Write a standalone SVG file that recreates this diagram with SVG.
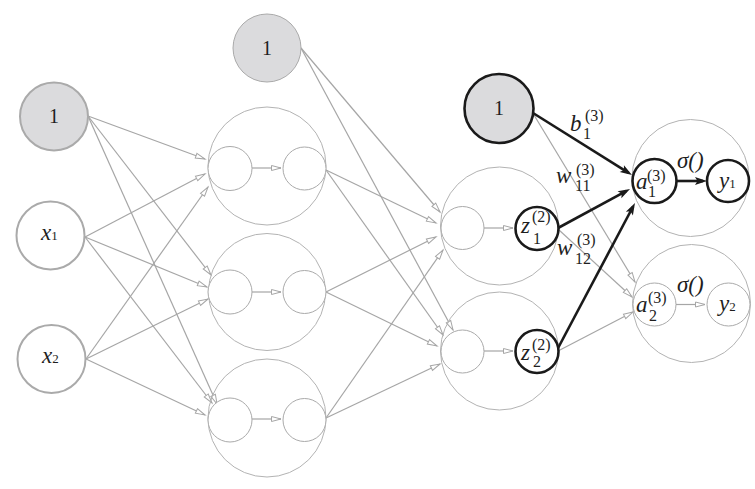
<svg xmlns="http://www.w3.org/2000/svg" width="755" height="489" viewBox="0 0 755 489">
<style>
.big{fill:none;stroke:#b3b3b3;stroke-width:1}
.sm{fill:#fff;stroke:#aaa;stroke-width:1}
.inp{fill:#fff;stroke:#aaa;stroke-width:2}
.bias{fill:#dbdbdd;stroke:#aaa;stroke-width:2}
.bias1{fill:#dbdbdd;stroke:#aaa;stroke-width:1}
.thk{fill:#fff;stroke:#1a1a1a;stroke-width:2.6}
.thkb{fill:#dbdbdd;stroke:#1a1a1a;stroke-width:2.6}
.g{stroke:#a6a6a6;stroke-width:1.2;fill:none;marker-end:url(#ag)}
.k{stroke:#1a1a1a;stroke-width:2.6;fill:none;marker-end:url(#ab)}
text{fill:#1e1e1e;font-family:"Liberation Serif","Times New Roman",serif}
.n{font-size:20px;text-anchor:middle}
.i{font-size:23px;font-style:italic}
.s{font-size:16px}
.ss{font-size:13px}
</style>
<defs>
<marker id="ag" markerWidth="11" markerHeight="7" refX="10" refY="3" orient="auto" markerUnits="userSpaceOnUse" overflow="visible">
<path d="M0.5,0.5 L10,3 L0.5,5.5 z" fill="#fff" stroke="#a6a6a6" stroke-width="1"/>
</marker>
<marker id="ab" markerWidth="13" markerHeight="9" refX="8" refY="4" orient="auto" markerUnits="userSpaceOnUse" overflow="visible">
<path d="M0,0 L12,4 L0,8 L2.5,4 z" fill="#1a1a1a"/>
</marker>
</defs>

<g id="connectors">
<line class="g" x1="88" y1="116" x2="205" y2="159"/>
<line class="g" x1="88" y1="116" x2="211" y2="275"/>
<line class="g" x1="88" y1="116" x2="217" y2="404"/>
<line class="g" x1="85" y1="237" x2="205" y2="174"/>
<line class="g" x1="85" y1="237" x2="207" y2="287"/>
<line class="g" x1="85" y1="237" x2="212" y2="403"/>
<line class="g" x1="86" y1="359" x2="208" y2="187"/>
<line class="g" x1="86" y1="359" x2="208" y2="299"/>
<line class="g" x1="86" y1="359" x2="205" y2="415"/>
<line class="g" x1="252" y1="168" x2="281" y2="168"/>
<line class="g" x1="252" y1="292" x2="281" y2="292"/>
<line class="g" x1="252" y1="419" x2="281" y2="419"/>
<line class="g" x1="301" y1="48" x2="440" y2="212"/>
<line class="g" x1="301" y1="48" x2="453" y2="330"/>
<line class="g" x1="326" y1="170" x2="436" y2="223"/>
<line class="g" x1="326" y1="170" x2="443" y2="335"/>
<line class="g" x1="326" y1="292" x2="436" y2="237"/>
<line class="g" x1="326" y1="292" x2="437" y2="346"/>
<line class="g" x1="326" y1="418" x2="443" y2="250"/>
<line class="g" x1="326" y1="418" x2="440" y2="364"/>
<line class="g" x1="484" y1="228" x2="513" y2="228"/>
<line class="g" x1="484" y1="351" x2="513" y2="351"/>
<line class="g" x1="534" y1="115" x2="635" y2="282"/>
<line class="g" x1="559" y1="230" x2="632" y2="297"/>
<line class="g" x1="558" y1="351" x2="633" y2="312"/>
<line class="g" x1="676" y1="304.5" x2="705" y2="304.5"/>
<line class="k" x1="533" y1="113" x2="628.6" y2="172.9"/>
<line class="k" x1="558" y1="228" x2="626.5" y2="190.9"/>
<line class="k" x1="557" y1="350" x2="633.1" y2="206.5"/>
<line class="k" x1="676" y1="181" x2="703" y2="181"/>
</g>

<g id="bias0"><circle class="bias" cx="54" cy="116.5" r="34"/><text class="n" x="54" y="123">1</text></g>
<g id="x1"><circle class="inp" cx="50.5" cy="235.5" r="34"/><text x="41" y="240"><tspan class="i">x</tspan><tspan class="ss">1</tspan></text></g>
<g id="x2"><circle class="inp" cx="51.5" cy="359" r="34"/><text x="42" y="363"><tspan class="i">x</tspan><tspan class="ss">2</tspan></text></g>

<g id="bias1"><circle class="bias1" cx="267" cy="48" r="34"/><text class="n" x="267" y="55">1</text></g>
<g id="h1">
<circle class="big" cx="267" cy="166" r="59"/>
<circle class="sm" cx="230" cy="168.5" r="22"/>
<circle class="sm" cx="304.5" cy="168.5" r="21.5"/>
</g>
<g id="h2">
<circle class="big" cx="267" cy="292" r="58.5"/>
<circle class="sm" cx="230" cy="292" r="22"/>
<circle class="sm" cx="304.5" cy="292" r="21.5"/>
</g>
<g id="h3">
<circle class="big" cx="267" cy="418" r="59"/>
<circle class="sm" cx="230" cy="420" r="22"/>
<circle class="sm" cx="304.5" cy="420" r="21.5"/>
</g>

<g id="bias2"><circle class="thkb" cx="499" cy="108.5" r="34.5"/><text class="n" x="499" y="115">1</text></g>
<g id="z1node">
<circle class="big" cx="499.5" cy="226" r="59"/>
<circle class="sm" cx="462.5" cy="228" r="21.5"/>
<circle class="thk" cx="537" cy="228.5" r="21.5"/>
<text class="i" x="521" y="233">z</text><text class="s" x="532" y="222">(2)</text><text class="s" x="533" y="244">1</text>
</g>
<g id="z2node">
<circle class="big" cx="499.5" cy="351" r="59"/>
<circle class="sm" cx="462.5" cy="351.5" r="21.5"/>
<circle class="thk" cx="537" cy="351.5" r="21.5"/>
<text class="i" x="521" y="360">z</text><text class="s" x="532" y="350">(2)</text><text class="s" x="533" y="367">2</text>
</g>

<g id="a1node">
<circle class="big" cx="690.5" cy="178" r="58.5"/>
<circle class="thk" cx="654.5" cy="181" r="22"/>
<circle class="thk" cx="728" cy="181" r="21"/>
<text class="i" x="636" y="189">a</text><text class="s" x="647" y="181">(3)</text><text class="s" x="648" y="197">1</text>
<text class="i" x="677" y="168">σ()</text>
<text x="719" y="188"><tspan class="i">y</tspan><tspan class="ss">1</tspan></text>
</g>
<g id="a2node">
<circle class="big" cx="691.5" cy="303.5" r="59"/>
<circle class="sm" cx="654.5" cy="304.5" r="21.5"/>
<circle class="sm" cx="728.5" cy="304.5" r="21.5"/>
<text class="i" x="636" y="312">a</text><text class="s" x="648" y="303">(3)</text><text class="s" x="649" y="321">2</text>
<text class="i" x="677" y="292">σ()</text>
<text x="719" y="311"><tspan class="i">y</tspan><tspan class="ss">2</tspan></text>
</g>

<g id="labels">
<text class="i" x="570" y="131">b</text><text class="s" x="585" y="121">(3)</text><text class="s" x="583" y="139">1</text>
<text class="i" x="556" y="183">w</text><text class="s" x="576" y="175">(3)</text><text class="s" x="575" y="191">11</text>
<text class="i" x="557" y="255">w</text><text class="s" x="577" y="245">(3)</text><text class="s" x="575" y="264">12</text>
</g>
</svg>
